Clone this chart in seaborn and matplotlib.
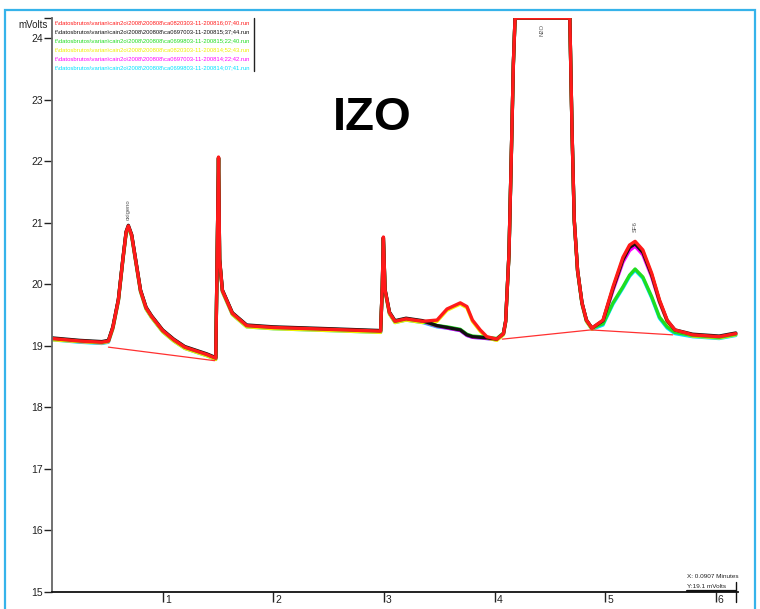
import numpy as np
import pandas as pd
import matplotlib
matplotlib.use("Agg")
import matplotlib.pyplot as plt
import matplotlib.transforms as mtransforms
from matplotlib.patches import Rectangle
import seaborn as sns

# ---------------- data ----------------
t_min = [0.00, 0.25, 0.45, 0.51, 0.55, 0.60, 0.64, 0.67, 0.69, 0.72, 0.76, 0.80, 0.85, 0.90,
         1.00, 1.10, 1.20, 1.30, 1.40, 1.48, 1.49, 1.505, 1.515, 1.54, 1.63, 1.76, 2.00, 2.50,
         2.97, 2.985, 2.995, 3.01, 3.05, 3.10, 3.20, 3.35, 3.48, 3.57, 3.69, 3.75, 3.80, 3.87,
         3.93, 4.02, 4.08, 4.10, 4.13, 4.15, 4.17, 4.185, 4.68, 4.70, 4.72, 4.75, 4.79, 4.83,
         4.88, 4.98, 5.07, 5.16, 5.22, 5.27, 5.34, 5.42, 5.49, 5.56, 5.63, 5.79, 6.03, 6.18]

red_mv = [19.12, 19.08, 19.06, 19.08, 19.30, 19.75, 20.40, 20.85, 20.95, 20.80, 20.35, 19.90, 19.62, 19.48,
          19.25, 19.10, 18.98, 18.92, 18.86, 18.80, 20.10, 22.07, 20.40, 19.90, 19.53, 19.33, 19.30, 19.27,
          19.24, 19.96, 20.77, 19.91, 19.54, 19.40, 19.44, 19.40, 19.42, 19.60, 19.70, 19.64, 19.42, 19.26,
          19.15, 19.11, 19.20, 19.40, 20.50, 22.00, 23.60, 24.33, 24.33, 22.50, 21.05, 20.23, 19.70, 19.42,
          19.29, 19.42, 19.96, 20.44, 20.64, 20.70, 20.56, 20.18, 19.75, 19.42, 19.26, 19.18, 19.15, 19.20]

yellow_mv = [19.10, 19.07, 19.05, 19.07, 19.28, 19.73, 20.38, 20.83, 20.93, 20.78, 20.33, 19.88, 19.60, 19.46,
             19.23, 19.08, 18.96, 18.90, 18.84, 18.78, 20.08, 22.05, 20.38, 19.88, 19.51, 19.31, 19.28, 19.25,
             19.22, 19.94, 20.75, 19.89, 19.52, 19.38, 19.42, 19.38, 19.40, 19.58, 19.68, 19.62, 19.40, 19.24,
             19.13, 19.09, 19.18, 19.38, 20.48, 21.98, 23.58, 24.33, 24.33, 22.48, 21.03, 20.21, 19.68, 19.40,
             19.27, 19.40, 19.94, 20.42, 20.62, 20.68, 20.54, 20.16, 19.73, 19.40, 19.24, 19.16, 19.13, 19.18]

black_mv = [19.13, 19.09, 19.07, 19.09, 19.31, 19.76, 20.41, 20.86, 20.96, 20.81, 20.36, 19.91, 19.63, 19.49,
            19.26, 19.11, 18.99, 18.93, 18.87, 18.81, 20.11, 22.06, 20.41, 19.91, 19.54, 19.34, 19.31, 19.28,
            19.25, 19.95, 20.76, 19.92, 19.55, 19.41, 19.45, 19.41, 19.33, 19.30, 19.26, 19.18, 19.15, 19.14,
            19.13, 19.11, 19.20, 19.40, 20.50, 22.00, 23.60, 24.33, 24.33, 22.50, 21.05, 20.23, 19.70, 19.42,
            19.29, 19.41, 19.93, 20.40, 20.60, 20.66, 20.52, 20.15, 19.73, 19.41, 19.26, 19.19, 19.16, 19.21]

magenta_mv = [19.11, 19.07, 19.05, 19.07, 19.29, 19.74, 20.39, 20.84, 20.94, 20.79, 20.34, 19.89, 19.61, 19.47,
              19.24, 19.09, 18.97, 18.91, 18.85, 18.79, 20.09, 22.05, 20.39, 19.89, 19.52, 19.32, 19.29, 19.26,
              19.23, 19.95, 20.76, 19.90, 19.53, 19.39, 19.43, 19.39, 19.32, 19.29, 19.25, 19.17, 19.14, 19.13,
              19.12, 19.10, 19.19, 19.39, 20.49, 21.99, 23.59, 24.33, 24.33, 22.49, 21.04, 20.22, 19.69, 19.41,
              19.28, 19.39, 19.90, 20.36, 20.55, 20.62, 20.48, 20.12, 19.71, 19.40, 19.25, 19.17, 19.14, 19.19]

green_mv = [19.12, 19.08, 19.06, 19.08, 19.30, 19.75, 20.40, 20.85, 20.94, 20.80, 20.35, 19.90, 19.62, 19.48,
            19.25, 19.10, 18.98, 18.92, 18.86, 18.80, 20.10, 22.05, 20.40, 19.90, 19.53, 19.33, 19.30, 19.27,
            19.24, 19.96, 20.75, 19.91, 19.54, 19.40, 19.44, 19.40, 19.33, 19.31, 19.27, 19.19, 19.16, 19.15,
            19.14, 19.12, 19.21, 19.41, 20.50, 22.00, 23.60, 24.33, 24.33, 22.50, 21.05, 20.23, 19.70, 19.42,
            19.29, 19.36, 19.70, 19.96, 20.15, 20.25, 20.12, 19.80, 19.47, 19.31, 19.22, 19.17, 19.14, 19.19]

cyan_mv = [19.10, 19.06, 19.04, 19.06, 19.28, 19.73, 20.38, 20.83, 20.92, 20.78, 20.33, 19.88, 19.60, 19.46,
           19.23, 19.08, 18.96, 18.90, 18.84, 18.78, 20.08, 22.03, 20.38, 19.88, 19.51, 19.31, 19.28, 19.25,
           19.22, 19.94, 20.73, 19.89, 19.52, 19.38, 19.42, 19.38, 19.31, 19.29, 19.25, 19.17, 19.14, 19.13,
           19.12, 19.10, 19.19, 19.39, 20.48, 21.98, 23.58, 24.33, 24.33, 22.48, 21.03, 20.21, 19.68, 19.40,
           19.27, 19.34, 19.68, 19.94, 20.13, 20.23, 20.10, 19.78, 19.45, 19.29, 19.20, 19.15, 19.12, 19.17]

run_files = [
    r"f:\datosbrutos\varian\cain2o\2008\200808\ca0820303-11-200816;07;40.run",
    r"f:\datosbrutos\varian\cain2o\2008\200808\ca0697003-11-200815;37;44.run",
    r"f:\datosbrutos\varian\cain2o\2008\200808\ca0699803-11-200815;22;40.run",
    r"f:\datosbrutos\varian\cain2o\2008\200808\ca0820303-11-200814;52;43.run",
    r"f:\datosbrutos\varian\cain2o\2008\200808\ca0697003-11-200814;22;42.run",
    r"f:\datosbrutos\varian\cain2o\2008\200808\ca0699803-11-200814;07;41.run",
]
run_colors = ["#ff1a1a", "#111111", "#1fdd1f", "#f0f000", "#ff00ff", "#00e0ff"]
run_values = [red_mv, black_mv, green_mv, yellow_mv, magenta_mv, cyan_mv]

# integration baselines (two segments)
base1_t = [0.51, 1.47]
base1_mv = [18.98, 18.76]
base2_t = [4.07, 4.87, 5.61]
base2_mv = [19.11, 19.26, 19.18]

# peak labels
peak_names = ["oxigeno", "N2O", "SF6"]
peak_t = [0.69, 4.43, 5.27]
peak_mv = [21.05, 24.04, 20.85]

y_ticks = [15, 16, 17, 18, 19, 20, 21, 22, 23, 24]
x_ticks = [1, 2, 3, 4, 5, 6]

# ---------------- figure ----------------
sns.set_theme(style="white")
plt.rcParams["font.family"] = ["Liberation Sans Narrow", "Liberation Sans", "DejaVu Sans"]

W, H = 760, 609
fig = plt.figure(figsize=(W / 100, H / 100), dpi=100)
fig.patch.set_facecolor("white")
ax = fig.add_axes([52 / W, 1 - 592 / H, (738 - 52) / W, (592 - 18) / H])
ax.set_facecolor("white")

rows = []
for name, vals in zip(run_files, run_values):
    for t, v in zip(t_min, vals):
        rows.append((name, t, v))
df = pd.DataFrame(rows, columns=["run", "t", "mv"])
draw_order = run_files[::-1]  # cyan first, red on top
palette = dict(zip(run_files, run_colors))
sns.lineplot(data=df, x="t", y="mv", hue="run", hue_order=draw_order, palette=palette,
             estimator=None, sort=False, legend=False, linewidth=2.4, ax=ax)

ax.plot(base1_t, base1_mv, color="#ff3030", lw=0.9)
ax.plot(base2_t, base2_mv, color="#ff3030", lw=0.9)

ax.set_xlim(0, 6.2)
ax.set_ylim(15, 24.33)
ax.set_xlabel("")
ax.set_ylabel("")

# spines
for s in ["top", "right"]:
    ax.spines[s].set_visible(False)
ax.spines["left"].set_color("#666666")
ax.spines["left"].set_linewidth(1.3)
ax.spines["bottom"].set_color("#111111")
ax.spines["bottom"].set_linewidth(1.3)

# y ticks
ax.set_yticks(y_ticks + [24.33])
ax.set_yticklabels([str(v) for v in y_ticks] + [""])
ax.tick_params(axis="y", direction="out", length=5.5, width=1, color="#222222",
               pad=1, labelsize=7.5, labelcolor="#222222", left=True)

# x ticks
ax.set_xticks(x_ticks)
ax.set_xticklabels([str(v) for v in x_ticks])
ax.tick_params(axis="x", direction="out", length=7, width=1, color="#222222",
               pad=-4.5, labelsize=7.5, labelcolor="#222222", bottom=True)
offset = mtransforms.ScaledTranslation(1.5 / 72, 0, fig.dpi_scale_trans)
for lab in ax.get_xticklabels():
    lab.set_ha("left")
    lab.set_transform(lab.get_transform() + offset)

# mVolts label
fig.text(48 / W, 1 - 25 / H, "mVolts", ha="right", va="center", fontsize=7, color="#222222")

# title
fig.text(372 / W, 1 - 118 / H, "IZO", ha="center", va="center", fontsize=34,
         fontweight="bold", family=["Liberation Sans", "DejaVu Sans"], color="black")

# peak labels
for nm, t, v in zip(peak_names, peak_t, peak_mv):
    ax.text(t, v, nm, rotation=90, ha="center", va="bottom", fontsize=4.2, color="#555555")

# legend text block
legend_y = [23, 32, 41, 50, 59, 68]
texts = []
for name, col, yy in zip(run_files, run_colors, legend_y):
    tx = fig.text(55 / W, 1 - yy / H, name, ha="left", va="center", fontsize=5.0, color=col)
    texts.append(tx)
fig.canvas.draw()
r = fig.canvas.get_renderer()
wmax = max(tx.get_window_extent(r).width for tx in texts)
scale = 197 / wmax
for tx in texts:
    tx.set_fontsize(5.0 * scale)
fig.add_artist(plt.Line2D([254 / W, 254 / W], [1 - 18 / H, 1 - 71 / H], color="#222222", lw=1.0))

# cursor readout bottom right
fig.text(687 / W, 1 - 577 / H, "X: 0.0907 Minutes", ha="left", va="center", fontsize=4.6, color="#222222")
fig.text(687 / W, 1 - 586 / H, "Y:19.1 mVolts", ha="left", va="center", fontsize=4.6, color="#222222")
fig.add_artist(plt.Line2D([687 / W, 736 / W], [1 - 591 / H, 1 - 591 / H], color="#111111", lw=1.6))
fig.add_artist(plt.Line2D([736 / W, 736 / W], [1 - 582 / H, 1 - 602 / H], color="#111111", lw=1.0))

# light-blue frame around the image
frame = Rectangle((5 / W, -0.05), (755 - 5) / W, 1.05 - 10 / H, transform=fig.transFigure,
                  fill=False, edgecolor="#36b3ea", lw=1.6)
fig.add_artist(frame)

fig.savefig("out.png", dpi=100, facecolor="white")
